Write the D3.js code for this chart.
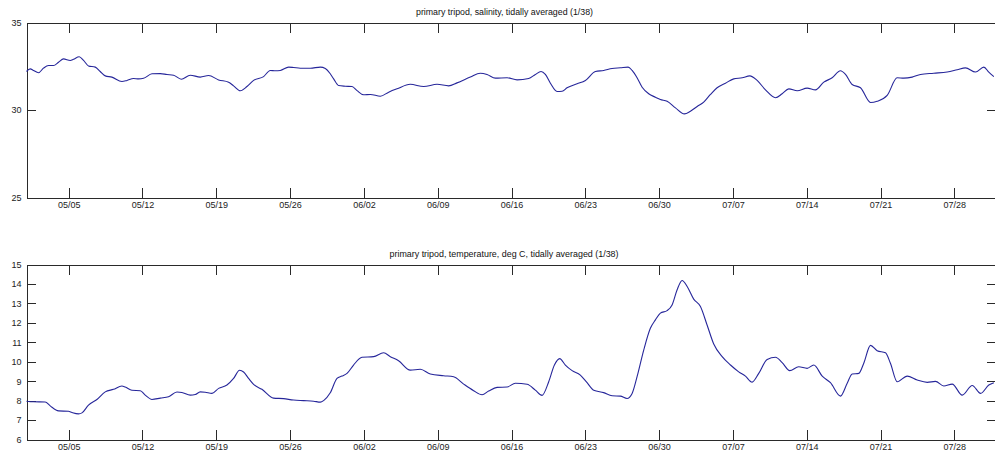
<!DOCTYPE html>
<html>
<head>
<meta charset="utf-8">
<script src="https://cdn.jsdelivr.net/npm/d3@7"></script>
<style>
  html, body { margin: 0; padding: 0; background: #fff; }
  svg { display: block; font-family: "Liberation Sans", Arial, Helvetica, sans-serif; }
  .axis path, .axis line { stroke: #2a2a2a; shape-rendering: crispEdges; }
  .axis text { fill: #222; font-size: 9px; }
</style>
</head>
<body>
<svg id="chart" width="995" height="455"></svg>
<script>
// Time in days since 05/01, values tidally averaged.
const salinityDays = [0, 0.35, 0.66, 1.14, 1.61, 2.09, 2.56, 3.04, 3.51, 4.15, 4.46, 5.0, 5.41, 5.88, 6.52, 6.99, 7.47, 8.1, 9.05, 9.53, 10.15, 10.63, 11.1, 11.9, 12.69, 13.32, 13.95, 14.68, 15.53, 16.48, 17.27, 18.22, 19.17, 19.64, 20.28, 20.91, 21.54, 22.49, 23.12, 23.6, 24.07, 24.86, 25.33, 25.97, 26.92, 27.87, 28.34, 28.81, 29.13, 29.6, 30.24, 30.87, 31.35, 31.97, 32.61, 33.56, 34.35, 35.14, 36.4, 37.67, 38.94, 40.04, 40.83, 42.1, 43.04, 43.68, 44.47, 45.58, 46.53, 47.63, 48.26, 48.8, 49.21, 49.69, 50.32, 50.8, 51.27, 52.22, 53.01, 53.96, 54.74, 55.54, 56.33, 57.06, 57.44, 57.91, 58.39, 59.01, 59.65, 60.12, 60.76, 61.55, 62.4, 62.97, 63.61, 64.23, 64.87, 65.5, 66.29, 67.08, 67.88, 68.6, 69.3, 70.09, 71.04, 71.67, 72.3, 73.1, 74.04, 74.83, 75.62, 76.41, 77.2, 77.68, 78.31, 79.1, 80.05, 80.68, 81.63, 82.58, 83.21, 84.0, 84.79, 86.05, 87.32, 88.27, 89.06, 90.01, 90.8, 91.27, 91.75];
const salinity = [32.2, 32.35, 32.26, 32.13, 32.39, 32.54, 32.54, 32.73, 32.92, 32.83, 32.9, 33.04, 32.83, 32.52, 32.45, 32.2, 31.95, 31.88, 31.63, 31.69, 31.8, 31.78, 31.81, 32.07, 32.08, 32.03, 31.99, 31.76, 31.99, 31.88, 31.97, 31.72, 31.59, 31.38, 31.1, 31.34, 31.69, 31.91, 32.26, 32.24, 32.26, 32.45, 32.43, 32.39, 32.39, 32.45, 32.37, 32.07, 31.78, 31.4, 31.36, 31.34, 31.11, 30.87, 30.89, 30.79, 31.02, 31.21, 31.47, 31.34, 31.47, 31.38, 31.55, 31.88, 32.1, 32.03, 31.82, 31.84, 31.72, 31.8, 32.03, 32.2, 32.03, 31.53, 31.06, 31.07, 31.27, 31.5, 31.69, 32.2, 32.26, 32.37, 32.41, 32.45, 32.26, 31.84, 31.3, 30.93, 30.73, 30.6, 30.5, 30.12, 29.78, 29.93, 30.2, 30.45, 30.89, 31.27, 31.53, 31.78, 31.84, 31.95, 31.69, 31.15, 30.7, 30.93, 31.21, 31.1, 31.25, 31.15, 31.59, 31.84, 32.24, 32.03, 31.46, 31.27, 30.43, 30.5, 30.83, 31.84, 31.82, 31.88, 32.03, 32.1, 32.17, 32.3, 32.41, 32.17, 32.45, 32.16, 31.91];

const temperatureDays = [0, 0.66, 1.77, 2.25, 3.04, 3.98, 4.31, 4.93, 5.26, 5.88, 6.68, 7.47, 8.25, 9.05, 9.36, 10.0, 10.79, 11.26, 11.9, 12.69, 13.47, 14.27, 14.74, 15.53, 16.01, 16.48, 16.95, 17.59, 18.22, 19.01, 19.64, 20.21, 20.59, 21.06, 21.54, 22.33, 23.43, 24.38, 25.33, 26.28, 27.23, 27.87, 28.18, 28.81, 29.45, 29.92, 30.4, 31.02, 31.82, 32.92, 33.87, 34.51, 35.29, 36.4, 37.35, 38.3, 39.56, 40.51, 41.46, 42.41, 43.21, 43.83, 44.63, 45.58, 46.37, 47.48, 48.26, 48.9, 49.53, 50.07, 50.57, 51.11, 51.75, 52.53, 53.17, 53.8, 54.74, 55.54, 56.33, 56.96, 57.44, 57.91, 58.54, 59.17, 59.65, 60.12, 60.76, 61.23, 61.71, 62.18, 62.66, 63.28, 63.92, 64.55, 65.18, 65.98, 66.77, 67.55, 68.19, 68.82, 69.45, 70.25, 71.04, 71.67, 72.39, 73.24, 74.04, 74.67, 75.47, 76.25, 77.2, 77.84, 78.31, 78.94, 79.41, 80.05, 80.68, 81.47, 81.94, 82.58, 83.53, 84.48, 85.43, 86.21, 87.0, 87.8, 88.75, 89.7, 90.49, 91.27, 91.75];
const temperature = [7.97, 7.94, 7.93, 7.73, 7.47, 7.45, 7.39, 7.32, 7.37, 7.77, 8.06, 8.45, 8.58, 8.75, 8.7, 8.53, 8.51, 8.28, 8.06, 8.13, 8.2, 8.44, 8.42, 8.28, 8.31, 8.45, 8.43, 8.37, 8.63, 8.8, 9.14, 9.56, 9.47, 9.14, 8.83, 8.58, 8.13, 8.1, 8.03, 8.0, 7.97, 7.92, 8.0, 8.4, 9.14, 9.26, 9.4, 9.83, 10.23, 10.26, 10.46, 10.26, 10.05, 9.57, 9.61, 9.37, 9.28, 9.23, 8.85, 8.51, 8.3, 8.49, 8.68, 8.7, 8.89, 8.84, 8.54, 8.27, 8.97, 9.83, 10.16, 9.83, 9.54, 9.31, 8.92, 8.53, 8.41, 8.25, 8.23, 8.11, 8.37, 9.23, 10.6, 11.72, 12.15, 12.5, 12.63, 12.92, 13.7, 14.18, 13.87, 13.22, 12.84, 11.89, 10.91, 10.26, 9.83, 9.48, 9.26, 8.95, 9.4, 10.12, 10.23, 9.95, 9.54, 9.74, 9.66, 9.83, 9.26, 8.92, 8.23, 8.89, 9.37, 9.4, 9.92, 10.84, 10.57, 10.46, 9.92, 8.97, 9.26, 9.06, 8.94, 8.99, 8.75, 8.85, 8.28, 8.78, 8.37, 8.8, 8.92];

// Weekly date ticks (days since 05/01) and their labels.
const dateTickDays = [4, 11, 18, 25, 32, 39, 46, 53, 60, 67, 74, 81, 88];
const dateTickLabels = ["05/05", "05/12", "05/19", "05/26", "06/02", "06/09", "06/16", "06/23", "06/30", "07/07", "07/14", "07/21", "07/28"];
const salinityTicks = [25, 30, 35];
const temperatureTicks = [6, 7, 8, 9, 10, 11, 12, 13, 14, 15];

const salinityTitle = "primary tripod, salinity, tidally averaged (1/38)";
const temperatureTitle = "primary tripod, temperature, deg C, tidally averaged (1/38)";

const svg = d3.select("#chart");
const x = d3.scaleLinear().domain([0, 92]).range([26.5, 996.5]);

function panel(opts) {
  const y = d3.scaleLinear().domain(opts.domain).range([opts.bottom, opts.top]);
  const g = svg.append("g");

  const tickFmt = (d, i) => dateTickLabels[dateTickDays.indexOf(d)];

  g.append("g").attr("class", "axis")
    .attr("transform", `translate(0,${opts.bottom})`)
    .call(d3.axisBottom(x).tickValues(dateTickDays).tickFormat(tickFmt)
      .tickSize(-10).tickSizeOuter(0).tickPadding(4));
  g.append("g").attr("class", "axis")
    .attr("transform", `translate(0,${opts.top})`)
    .call(d3.axisTop(x).tickValues(dateTickDays).tickFormat("")
      .tickSize(-10).tickSizeOuter(0));
  g.append("g").attr("class", "axis")
    .attr("transform", `translate(${x.range()[0]},0)`)
    .call(d3.axisLeft(y).tickValues(opts.ticks).tickFormat(d3.format("d"))
      .tickSize(-9.5).tickSizeOuter(0).tickPadding(5));
  g.append("g").attr("class", "axis")
    .attr("transform", `translate(${x.range()[1]},0)`)
    .call(d3.axisRight(y).tickValues(opts.ticks).tickFormat("")
      .tickSize(-10).tickSizeOuter(0));

  const line = d3.line()
    .x((d, i) => x(opts.days[i]))
    .y(d => y(d))
    .curve(d3.curveMonotoneX);

  g.append("path")
    .datum(opts.values)
    .attr("fill", "none")
    .attr("stroke", "#26269a")
    .attr("stroke-width", 1.1)
    .attr("stroke-linejoin", "round")
    .attr("d", line);

  g.append("text")
    .attr("x", opts.titleX)
    .attr("y", opts.top - 7.5)
    .attr("text-anchor", "middle")
    .attr("font-size", "8.5px")
    .attr("fill", "#111")
    .attr("textLength", opts.titleWidth)
    .attr("lengthAdjust", "spacingAndGlyphs")
    .text(opts.title);
}

panel({
  domain: [25, 35], top: 22.5, bottom: 197.5, ticks: salinityTicks,
  days: salinityDays, values: salinity,
  title: salinityTitle, titleX: 504.5, titleWidth: 177
});
panel({
  domain: [6, 15], top: 264.5, bottom: 439.5, ticks: temperatureTicks,
  days: temperatureDays, values: temperature,
  title: temperatureTitle, titleX: 504, titleWidth: 229
});
</script>
</body>
</html>
